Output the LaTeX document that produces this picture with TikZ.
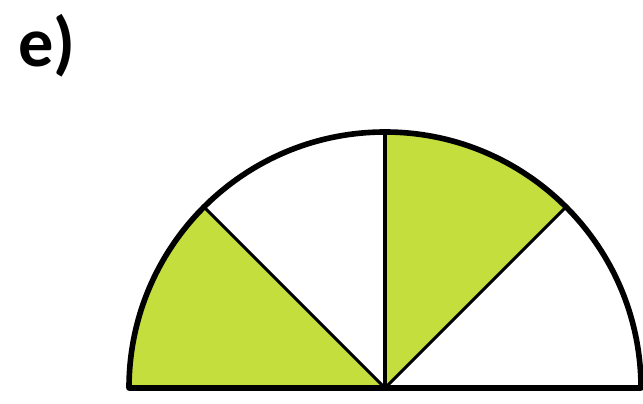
\documentclass[tikz,border=0pt]{standalone}
\usepackage{fontspec}
\setsansfont{Carlito}
\usepackage{xcolor}
\usepackage{tikz}
\usetikzlibrary{positioning}
\definecolor{sectorgreen}{RGB}{196, 222, 62}

\begin{document}
\begin{tikzpicture}[
  x=0.02cm, y=0.02cm,
  sector/.style={fill=sectorgreen, draw=none},
  radius line/.style={draw=black, line width=1.8pt},
  rim/.style={draw=black, line width=3.2pt, line join=round},
  label/.style={font=\sffamily\bfseries\fontsize{40}{40}\selectfont, inner sep=0pt}
]
\useasboundingbox (0,0) rectangle (643,403);

\coordinate (centre) at (385,15);

% filled sectors
\fill[sector] (centre) -- ++(180:256) arc[start angle=180, end angle=135, radius=256] -- cycle;
\fill[sector] (centre) -- ++(90:256) arc[start angle=90, end angle=45, radius=256] -- cycle;

% dividing radii
\foreach \ang in {135, 90, 45}
  \draw[radius line] (centre) -- ++(\ang:256);

% outline
\draw[rim] (centre) ++(0:256) arc[start angle=0, end angle=180, radius=256] -- cycle;

\node[label] (title) at (47,357) {e)};

\end{tikzpicture}
\end{document}
